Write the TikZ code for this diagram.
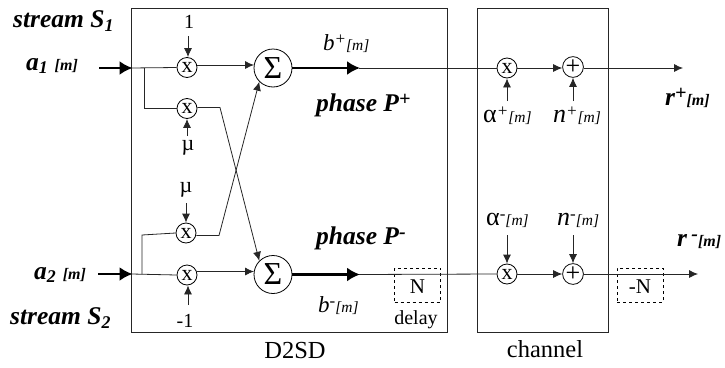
\documentclass[tikz,border=0pt]{standalone}
\usepackage{fontspec}
\setmainfont{Liberation Serif}
\usetikzlibrary{arrows.meta}
\newcommand{\fs}[1]{\fontsize{#1}{#1}\selectfont}
\newcommand{\upx}[1]{\raisebox{6pt}{\fs{17}#1}}
\tikzset{
 x=1pt,y=-1pt,
 wire/.style={draw=black!85,line width=0.8pt},
 arr/.style={wire,-{Latex[length=9pt,width=8pt]}},
 thick wire/.style={draw=black,line width=2.4pt,-{Latex[length=13pt,width=14pt]},shorten >=-1pt},
 mult/.style={circle,draw=black,line width=0.8pt,minimum size=20pt,inner sep=0pt,font=\fs{22}},
 summ/.style={circle,draw=black,line width=0.8pt,minimum size=38pt,inner sep=0pt,font=\fs{32}},
 delaybox/.style={draw=black,dashed,line width=0.7pt,inner sep=0pt,minimum width=46pt,minimum height=34pt},
 lab/.style={inner sep=0pt,font=\fs{20}},
 bi/.style={inner sep=0pt,font=\fs{25.5}\bfseries\itshape},
 ital/.style={inner sep=0pt,font=\fs{23}\itshape},
}
\newcommand{\idx}{{\fs{15.5}[m]}}
\begin{document}
\begin{tikzpicture}
\useasboundingbox (0,0) rectangle (725,367);
\node[draw=black!85,line width=0.9pt,inner sep=0pt,minimum width=316pt,minimum height=324pt] (d2sd) at (289.5,170) {};
\node[draw=black!85,line width=0.9pt,inner sep=0pt,minimum width=131pt,minimum height=324pt] (chan) at (543,170) {};
% multipliers
\node[mult] (m1) at (187,67.5) {x};
\node[mult] (m2) at (187,108.5) {x};
\node[mult] (m3) at (186,233) {x};
\node[mult] (m4) at (187,275) {x};
\node[summ] (s1) at (273,68) {Σ};
\node[summ] (s2) at (273,274.5) {Σ};
\node[mult] (c1) at (507,68) {x};
\node[mult] (p1) at (573,67) {\fs{26}+};
\node[mult] (c2) at (507,274) {x};
\node[mult] (p2) at (573,274) {\fs{26}+};
\node[delaybox] (dN) at (417.5,285) {};
\node[delaybox] (dM) at (640,285) {};
\node[lab,font=\fs{21}] (tN) at (417.5,287) {N};
\node[lab,font=\fs{21}] (tM) at (640,287) {-N};
\node[lab] (delay) at (416,320) {delay};
\node[inner sep=0pt,font=\fs{24.5}] (ld2) at (295,351) {D2SD};
\node[inner sep=0pt,font=\fs{24.5}] (lch) at (545,349) {channel};
% free ends
\coordinate (in1) at (99,68);
\coordinate (in1e) at (131.5,68);
\coordinate (in2) at (98,274);
\coordinate (in2e) at (131.5,274);
\coordinate (b1) at (144.5,68);
\coordinate (b1d) at (144.5,108.5);
\coordinate (b2) at (142,274);
\coordinate (b2u) at (142,235);
\coordinate (k2) at (220,107.5);
\coordinate (k3) at (219,235.5);
\coordinate (o1) at (683,68);
\coordinate (o2) at (698,274);
\coordinate (t1) at (188,36);
\coordinate (t2) at (187,136);
\coordinate (t3) at (186,203);
\coordinate (t4) at (188,305);
\coordinate (a1) at (507,101);
\coordinate (n1) at (573,101);
\coordinate (a2) at (507,235);
\coordinate (n2) at (573,235);
\coordinate (th1) at (359,68);
\coordinate (th2) at (359,274.5);
% wires
\draw[thick wire] (in1) -- (in1e);
\draw[thick wire] (in2) -- (in2e);
\draw[wire] (in1e) -- (m1.west);
\draw[wire] (in2e) -- (m4.west);
\draw[wire] (b1) -- (b1d) -- (m2.west);
\draw[wire] (b2) -- (b2u) -- (m3.west);
\draw[arr] (m1.east |- 0,65) -- (254,65);
\draw[arr] (m4.east |- 0,271.5) -- (254,271.5);
\draw[arr] (m2.east |- 0,107.5) -- (k2) -- (s2.north west);
\draw[arr] (m3.east |- 0,235.5) -- (k3) -- (s1.south west);
\draw[thick wire] (s1.east) -- (th1);
\draw[thick wire] (s2.east) -- (th2);
\draw[wire] (th1) -- (c1.west);
\draw[wire] (th2) -- (c2.west);
\draw[arr] (c1.east) -- (p1.west |- c1.east);
\draw[arr] (c2.east) -- (p2.west);
\draw[arr] (p1.east |- 0,68) -- (o1);
\draw[arr] (p2.east) -- (o2);
\draw[arr] (t1) -- (m1.north -| t1);
\draw[arr] (t2) -- (m2.south);
\draw[arr] (t3) -- (m3.north);
\draw[arr] (t4) -- (m4.south -| t4);
\draw[arr] (a1) -- (c1.south);
\draw[arr] (n1) -- (p1.south);
\draw[arr] (a2) -- (c2.north);
\draw[arr] (n2) -- (p2.north);
% labels
\node[bi,anchor=west] (ss1) at (13,21) {stream S\textsubscript{1}};
\node[bi,anchor=west] (ss2) at (10,318) {stream S\textsubscript{2}};
\node[bi,anchor=west] (la1) at (26,66) {a\textsubscript{1} {\fs{16}[m]}};
\node[bi,anchor=west] (la2) at (34,275) {a\textsubscript{2} {\fs{16}[m]}};
\node[lab,font=\fs{20}] (v1) at (189,22) {1};
\node[lab,font=\fs{22}] (v2) at (188,148) {µ};
\node[lab,font=\fs{22}] (v3) at (186,190) {µ};
\node[lab,font=\fs{20}] (v4) at (185,321) {-1};
\node[ital,anchor=west] (lb1) at (323,44) {b\upx{+}\idx};
\node[ital,anchor=west] (lb2) at (318,306) {b\upx{-}\idx};
\node[bi,anchor=west] (ph1) at (316,105) {phase P\upx{\fs{20}+}};
\node[bi,anchor=west] (ph2) at (316,238) {phase P\upx{\fs{20}-}};
\node[ital,anchor=west] (la) at (483,116) {\textup{\fs{26}α}\upx{+}\idx};
\node[ital,anchor=west] (ln) at (553,116) {\fs{26}n\upx{+}\idx};
\node[ital,anchor=west] (lc) at (486,220) {\textup{\fs{26}α}\upx{-}\idx};
\node[ital,anchor=west] (lm) at (557,220) {\fs{26}n\upx{-}\idx};
\node[bi,anchor=west] (r1) at (665,98) {r\upx{\fs{20}+}{\fs{16}[m]}};
\node[bi,anchor=west] (r2) at (677,242) {r\,\upx{\fs{20}-}{\fs{16}[m]}};
\end{tikzpicture}
\end{document}
